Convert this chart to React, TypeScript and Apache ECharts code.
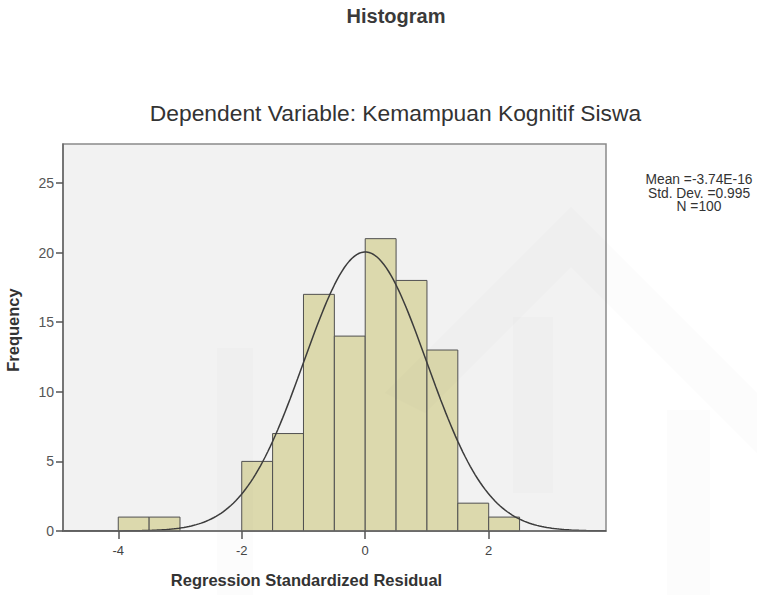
import React, { useEffect, useRef } from "react";
import * as echarts from "echarts";

const binStarts = [-4, -3.5, -3, -2.5, -2, -1.5, -1, -0.5, 0, 0.5, 1, 1.5, 2];
const binWidth = 0.5;
const counts = [1, 1, 0, 0, 5, 7, 17, 14, 21, 18, 13, 2, 1];
const meanValue = -3.74e-16;
const stdDev = 0.995;
const nTotal = 100;
const xTicks = [-4, -2, 0, 2];
const yTicks = [0, 5, 10, 15, 20, 25];
const xMin = -4.895;
const xMax = 3.9;
const yMax = 27.8;

const statsText = "Mean =-3.74E-16\nStd. Dev. =0.995\nN =100";

export default function App() {
  const ref = useRef<HTMLDivElement>(null);
  useEffect(() => {
    document.body.style.margin = "0";
    if (!ref.current) return;
    const chart = echarts.init(ref.current, undefined, { renderer: "svg" });

    const barData = binStarts.map((s, i) => [s, s + binWidth, counts[i]]);
    const curve: number[][] = [];
    const steps = 220;
    for (let i = 0; i <= steps; i++) {
      const x = xMin + ((xMax - xMin) * i) / steps;
      const z = (x - meanValue) / stdDev;
      const y = (nTotal * binWidth) / (stdDev * Math.sqrt(2 * Math.PI)) * Math.exp(-0.5 * z * z);
      curve.push([x, y]);
    }

    const font = "'Liberation Sans', Arial, Helvetica, sans-serif";
    const wm = "rgba(120,120,120,0.022)";

    chart.setOption({
      animation: false,
      textStyle: { fontFamily: font },
      grid: {
        left: 63,
        top: 144,
        right: 151,
        bottom: 64,
        show: true,
        backgroundColor: "#f2f2f2",
        borderColor: "#8a8a8a",
        borderWidth: 1.5,
      },
      xAxis: {
        type: "value",
        min: xMin,
        max: xMax,
        z: 5,
        splitLine: { show: false },
        axisLine: { show: true, onZero: false, lineStyle: { color: "#666", width: 1.5 } },
        axisTick: { show: true, customValues: xTicks, length: 8, inside: false, lineStyle: { color: "#555", width: 1.5 } },
        axisLabel: { customValues: xTicks, margin: 13, fontSize: 13, color: "#444", fontFamily: font },
      },
      yAxis: {
        type: "value",
        min: 0,
        max: yMax,
        z: 5,
        splitLine: { show: false },
        axisLine: { show: true, onZero: false, lineStyle: { color: "#666", width: 1.5 } },
        axisTick: { show: true, customValues: yTicks, length: 7, lineStyle: { color: "#555", width: 1.5 } },
        axisLabel: { customValues: yTicks, margin: 9, fontSize: 14, color: "#555", fontFamily: font },
      },
      graphic: [
        {
          type: "text",
          x: 396,
          y: 6,
          style: { text: "Histogram", align: "center", fontSize: 20, fontWeight: "bold", fill: "#3a3a3a", fontFamily: font },
        },
        {
          type: "text",
          x: 395.5,
          y: 101,
          style: { text: "Dependent Variable: Kemampuan Kognitif Siswa", align: "center", fontSize: 22.8, fill: "#333", fontFamily: font },
        },
        {
          type: "text",
          x: 699,
          y: 173,
          style: { text: statsText, align: "center", fontSize: 13.8, lineHeight: 13.5, fill: "#333", fontFamily: font },
        },
        {
          type: "text",
          x: 306.5,
          y: 571,
          style: { text: "Regression Standardized Residual", align: "center", fontSize: 16.5, fontWeight: "bold", fill: "#333", fontFamily: font },
        },
        {
          type: "text",
          x: 13,
          y: 330,
          rotation: Math.PI / 2,
          style: { text: "Frequency", align: "center", verticalAlign: "middle", fontSize: 16.5, fontWeight: "bold", fill: "#333", fontFamily: font },
        },
        {
          type: "polygon",
          z: 100,
          silent: true,
          shape: { points: [[385, 393], [571, 207], [757, 393], [757, 453], [571, 267], [425, 413]] },
          style: { fill: wm },
        },
        { type: "rect", z: 100, silent: true, shape: { x: 513, y: 317, width: 40, height: 176 }, style: { fill: wm } },
        { type: "rect", z: 100, silent: true, shape: { x: 217, y: 348, width: 36, height: 247 }, style: { fill: wm } },
        { type: "rect", z: 100, silent: true, shape: { x: 667, y: 410, width: 43, height: 185 }, style: { fill: wm } },
      ],
      series: [
        {
          type: "custom",
          data: barData,
          encode: { x: [0, 1], y: 2 },
          z: 2,
          renderItem: (params: any, api: any) => {
            const x0 = api.value(0);
            const x1 = api.value(1);
            const y = api.value(2);
            if (!y) return null;
            const p0 = api.coord([x0, y]);
            const p1 = api.coord([x1, 0]);
            return {
              type: "rect",
              shape: { x: p0[0], y: p0[1], width: p1[0] - p0[0], height: p1[1] - p0[1] },
              style: { fill: "#dcd9ad", stroke: "#505050", lineWidth: 1 },
            };
          },
        },
        {
          type: "line",
          data: curve,
          z: 3,
          showSymbol: false,
          symbol: "none",
          smooth: false,
          lineStyle: { color: "#3c3c3c", width: 1.5 },
          silent: true,
        },
      ],
    });
    return () => chart.dispose();
  }, []);
  return <div ref={ref} style={{ position: "absolute", left: 0, top: 0, width: 757, height: 595 }} />;
}
